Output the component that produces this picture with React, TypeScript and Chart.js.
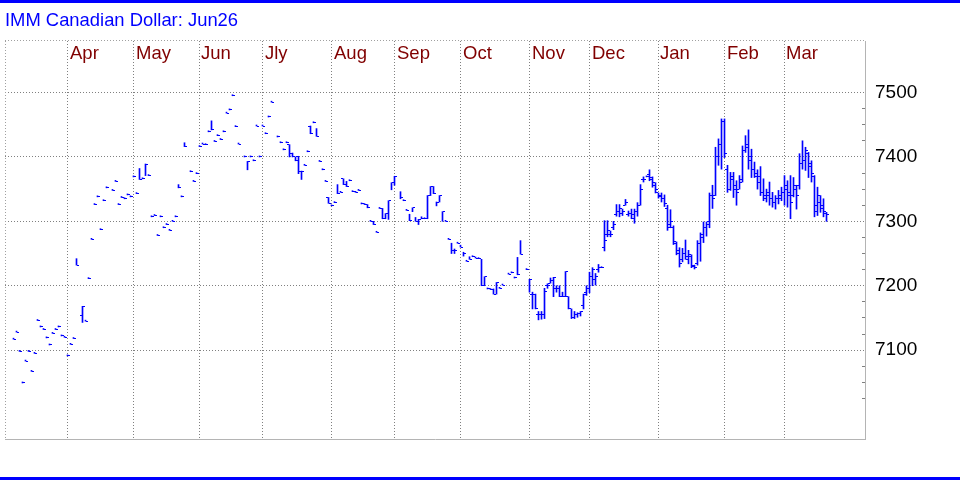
import { useEffect, useRef } from "react";
import { Chart, registerables } from "chart.js";

Chart.register(...registerables);

// Row: single number = close-only print; [open|null, high, low, close]; null = no trade
type Row = number | null | [number | null, number, number, number];

const titleText = "IMM Canadian Dollar: Jun26";
const monthLabels = ["Apr", "May", "Jun", "Jly", "Aug", "Sep", "Oct", "Nov", "Dec", "Jan", "Feb", "Mar"];
// weekday index (0 = first weekday of March 2025) of each month's first weekday
const monthStartDays = [21, 43, 65, 86, 109, 130, 152, 175, 195, 218, 240, 260];
const priceTicks = [7100, 7200, 7300, 7400, 7500];
const minorPriceTicks = [7025, 7050, 7075, 7125, 7150, 7175, 7225, 7250, 7275, 7325, 7350, 7375, 7425, 7450, 7475];

const mar25: Row[] = [null, null, null, 7117, 7128, 7098, 7049, 7083, 7098, 7067, 7095, 7146, 7136, 7132, 7119, 7108, 7126, 7132, 7136, 7122, 7120];
const apr25: Row[] = [7091, 7109, 7118, [null, 7242, 7232, 7232], null, [7153, 7168, 7143, 7168], 7145, 7211, 7272, 7326, 7338, 7287, 7332, 7352, null, 7348, 7362, 7326, 7337, 7335, 7341, 7338];
const may25: Row[] = [7369, 7343, [null, 7382, 7365, 7365], 7366, [null, 7389, 7371, 7389], 7371, 7307, 7309, 7278, 7307, 7290, 7295, 7286, 7300, 7307, [null, 7357, 7352, 7352], 7338, [null, 7422, 7416, 7416], null, 7377, 7362, 7374];
const jun25: Row[] = [7416, 7420, 7419, 7439, [null, 7456, 7442, 7442], 7424, 7433, 7427, 7439, 7468, 7473, 7495, 7447, 7420, null, 7400, [null, 7393, 7380, 7393], 7400, 7394, 7448, 7400];
const jul25: Row[] = [7448, 7436, 7462, 7485, null, 7431, 7422, 7411, 7422, [7419, 7419, 7400, 7406], [null, 7406, 7400, 7400], [null, 7400, 7394, 7394], [7401, 7401, 7374, 7378], [null, 7378, 7365, 7378], 7387, 7408, [7447, 7448, 7436, 7436], 7453, [null, 7444, 7432, 7432], 7393, 7380, 7362, [7337, 7337, 7328, 7328]];
const aug25: Row[] = [7324, 7329, [null, 7357, 7343, 7343], 7345, [7366, 7366, 7357, 7357], [null, 7362, 7354, 7354], 7363, 7346, 7345, 7348, 7327, 7326, [null, 7326, 7321, 7321], 7300, [null, 7300, 7295, 7295], 7283, 7320, [null, 7320, 7304, 7304], [null, 7312, 7304, 7312], [null, 7332, 7303, 7332], [null, 7360, 7349, 7360]];
const sep25: Row[] = [[null, 7370, 7356, 7370], null, [null, 7346, 7335, 7337], 7332, 7317, [null, 7311, 7301, 7301], [null, 7321, 7315, 7321], [null, 7306, 7300, 7300], [null, 7303, 7295, 7303], [null, 7307, 7304, 7304], 7304, [null, 7340, 7304, 7340], [null, 7354, 7340, 7354], [null, 7354, 7343, 7343], [null, 7330, 7324, 7330], [null, 7340, 7330, 7340], [null, 7315, 7300, 7315], 7300, 7272, [null, 7266, 7250, 7254], [7254, 7257, 7250, 7254], 7266];
const oct25: Row[] = [[null, 7263, 7260, 7260], [null, 7252, 7246, 7250], 7238, [null, 7245, 7241, 7241], 7245, 7243, 7242, [null, 7241, 7200, 7200], [null, 7214, 7200, 7214], 7195, 7194, [null, 7195, 7187, 7187], [null, 7205, 7187, 7205], 7196, 7201, null, 7218, 7220, 7212, [null, 7244, 7217, 7217], [null, 7270, 7249, 7249], null, 7225];
const nov25: Row[] = [[null, 7210, 7190, 7210], [7187, 7190, 7164, 7187], [null, 7187, 7164, 7164], [7155, 7160, 7147, 7155], [7155, 7160, 7148, 7155], [null, 7196, 7149, 7191], [7200, 7203, 7196, 7200], [7204, 7212, 7204, 7208], [null, 7213, 7183, 7213], [7195, 7200, 7190, 7195], [7195, 7200, 7183, 7183], [null, 7190, 7183, 7183], [null, 7222, 7183, 7222], [7183, 7183, 7164, 7164], [7164, 7164, 7149, 7150], [7150, 7160, 7149, 7155], [7155, 7158, 7151, 7157], [7157, 7160, 7153, 7160], [7170, 7187, 7164, 7187], [7190, 7200, 7185, 7195]];
const dec25: Row[] = [[7195, 7221, 7189, 7215], [7215, 7228, 7200, 7225], [7210, 7219, 7201, 7215], [7225, 7233, 7221, 7228], 7228, [7260, 7301, 7254, 7270], [7280, 7301, 7276, 7285], [7279, 7285, 7276, 7279], [7290, 7300, 7287, 7295], [7310, 7326, 7308, 7315], [7315, 7326, 7307, 7320], [7312, 7319, 7309, 7315], [7325, 7334, 7325, 7330], [7310, 7316, 7308, 7312], [7312, 7319, 7304, 7310], [7305, 7319, 7297, 7315], [7315, 7329, 7308, 7325], [7325, 7357, 7325, 7350], [7365, 7369, 7361, 7365], 7369, [7372, 7380, 7363, 7368], [7365, 7369, 7353, 7360], [7355, 7360, 7344, 7350]];
const jan26: Row[] = [[7344, 7344, 7336, 7338], [7340, 7344, 7330, 7335], [7335, 7341, 7323, 7328], [7320, 7325, 7286, 7290], [7295, 7318, 7290, 7300], [7290, 7293, 7264, 7268], [7265, 7268, 7248, 7255], [7250, 7259, 7229, 7235], [7240, 7258, 7237, 7250], [7250, 7271, 7241, 7245], [7240, 7255, 7234, 7248], [7245, 7248, 7228, 7232], [7230, 7232, 7226, 7228], [7235, 7270, 7232, 7265], [7265, 7282, 7238, 7275], [7280, 7299, 7267, 7290], [7290, 7299, 7277, 7295], [7300, 7344, 7290, 7340], [7340, 7356, 7320, 7335], [7340, 7415, 7340, 7400], [7400, 7428, 7387, 7420], [7420, 7459, 7381, 7455]];
const feb26: Row[] = [[7455, 7459, 7399, 7405], [7380, 7387, 7345, 7350], [7350, 7376, 7348, 7370], [7365, 7376, 7337, 7355], [7350, 7363, 7325, 7345], [7350, 7371, 7350, 7360], [7365, 7417, 7361, 7410], [7410, 7433, 7407, 7420], [7415, 7442, 7381, 7400], [7395, 7412, 7368, 7380], [7380, 7392, 7368, 7375], [7370, 7380, 7350, 7360], [7370, 7385, 7340, 7345], [7345, 7366, 7332, 7335], [7340, 7350, 7330, 7345], [7340, 7361, 7325, 7335], [7335, 7345, 7322, 7330], [7330, 7340, 7319, 7335], [7335, 7348, 7327, 7340], [7335, 7353, 7332, 7345]];
const mar26: Row[] = [[7345, 7371, 7325, 7355], [7350, 7363, 7322, 7340], [7345, 7371, 7304, 7330], [7340, 7368, 7338, 7355], [7350, 7356, 7319, 7340], [7355, 7405, 7350, 7390], [7390, 7425, 7381, 7395], [7395, 7415, 7379, 7410], [7405, 7407, 7368, 7390], [7385, 7394, 7361, 7375], [7370, 7371, 7307, 7315], [7325, 7353, 7309, 7340], [7330, 7340, 7314, 7325], [7320, 7335, 7307, 7315], [7312, 7314, 7300, 7310]];

const allRows: Row[] = [...mar25, ...apr25, ...may25, ...jun25, ...jul25, ...aug25, ...sep25, ...oct25, ...nov25, ...dec25, ...jan26, ...feb26, ...mar26];

type Bar = { x: number; o: number | null; h: number; l: number; c: number };
const bars: Bar[] = [];
allRows.forEach((r, i) => {
  if (r === null) return;
  if (typeof r === "number") bars.push({ x: i, o: null, h: r, l: r, c: r });
  else bars.push({ x: i, o: r[0], h: r[1], l: r[2], c: r[3] });
});

const FONT = '"Liberation Sans", Arial, Helvetica, sans-serif';
const BAR_COLOR = "#0000ff";

const decorPlugin = {
  id: "decor",
  beforeDraw(chart: any) {
    const { ctx, width, height } = chart;
    ctx.save();
    ctx.fillStyle = "#ffffff";
    ctx.fillRect(0, 0, width, height);
    ctx.restore();
  },
  beforeDatasetsDraw(chart: any) {
    const { ctx, chartArea } = chart;
    const ys = chart.scales.y;
    ctx.save();
    ctx.strokeStyle = "#a0a0a0";
    ctx.lineWidth = 1;
    ctx.setLineDash([1, 2]);
    ctx.beginPath();
    ctx.moveTo(chartArea.left + 0.5, chartArea.top);
    ctx.lineTo(chartArea.left + 0.5, chartArea.bottom);
    ctx.moveTo(chartArea.left, chartArea.top - 0.5);
    ctx.lineTo(chartArea.right, chartArea.top - 0.5);
    ctx.stroke();
    ctx.setLineDash([]);
    ctx.fillStyle = "#808080";
    minorPriceTicks.forEach((v) => {
      const y = Math.floor(ys.getPixelForValue(v));
      ctx.fillRect(chartArea.right - 3, y, 3, 1);
    });
    ctx.restore();
  },
  afterDatasetsDraw(chart: any) {
    const { ctx } = chart;
    const ys = chart.scales.y;
    const meta = chart.getDatasetMeta(0);
    ctx.save();
    ctx.fillStyle = BAR_COLOR;
    meta.data.forEach((el: any, j: number) => {
      const b = bars[j];
      const cx = Math.floor(el.x);
      if (b.o !== null) {
        const yo = Math.floor(ys.getPixelForValue(b.o));
        ctx.fillRect(cx - 2, yo, 2, 1);
      }
      const yc = Math.floor(ys.getPixelForValue(b.c));
      ctx.fillRect(cx + 1, yc, 2, 1);
    });
    ctx.restore();
  },
  afterDraw(chart: any) {
    const { ctx, width, height } = chart;
    const xs = chart.scales.x;
    ctx.save();
    ctx.font = `18.5px ${FONT}`;
    ctx.fillStyle = "#800000";
    ctx.textBaseline = "alphabetic";
    ctx.textAlign = "left";
    monthLabels.forEach((m, k) => {
      const x = xs.getPixelForValue(monthStartDays[k]);
      ctx.fillText(m, Math.round(x) + 2, 59);
    });
    ctx.fillStyle = "#0000ff";
    ctx.fillRect(0, 0, width, 3);
    ctx.fillRect(0, height - 3, width, 3);
    ctx.restore();
  },
};

export default function App() {
  const ref = useRef<HTMLCanvasElement | null>(null);
  useEffect(() => {
    if (!ref.current) return;
    const chart = new Chart(ref.current, {
      type: "bar",
      data: {
        datasets: [
          {
            data: bars.map((b) => ({ x: b.x, y: [b.l, b.h] })) as any,
            backgroundColor: BAR_COLOR,
            borderWidth: 0,
            barThickness: 1,
            minBarLength: 1,
          },
        ],
      },
      options: {
        animation: false,
        responsive: false,
        devicePixelRatio: 1,
        events: [],
        layout: { padding: { left: 5, right: 0, top: 0, bottom: 41 } },
        plugins: {
          legend: { display: false },
          tooltip: { enabled: false },
          title: {
            display: true,
            text: titleText,
            align: "start",
            color: "#0000ff",
            font: { family: FONT, size: 18.4, weight: "normal", lineHeight: 1.2 },
            padding: { top: 10, bottom: 8.92 },
          },
        },
        scales: {
          x: {
            type: "linear",
            min: 1 / 6,
            max: 1 / 6 + 860 / 3,
            offset: false,
            afterBuildTicks: (scale: any) => {
              scale.ticks = monthStartDays.map((v) => ({ value: v }));
            },
            afterFit: (scale: any) => {
              scale.height = 0;
            },
            ticks: { display: false },
            grid: { display: true, color: "#808080", lineWidth: 1, drawTicks: false, offset: false },
            border: { display: true, color: "#b4b4b4", width: 1, dash: [1, 2] },
          },
          y: {
            type: "linear",
            position: "right",
            min: 6962,
            max: 7580,
            afterBuildTicks: (scale: any) => {
              scale.ticks = priceTicks.map((v) => ({ value: v }));
            },
            afterFit: (scale: any) => {
              scale.width = 95;
            },
            ticks: {
              color: "#000000",
              font: { family: FONT, size: 19 },
              padding: 10,
              callback: (v: any) => String(v),
            },
            grid: { display: true, color: "#808080", lineWidth: 1, drawTicks: false },
            border: { display: true, color: "#b4b4b4", width: 1, dash: [1, 2] },
          },
        },
      },
      plugins: [decorPlugin],
    } as any);
    return () => chart.destroy();
  }, []);
  return (
    <div style={{ position: "fixed", left: 0, top: 0, width: 960, height: 480, background: "#fff" }}>
      <canvas ref={ref} width={960} height={480} style={{ display: "block", width: 960, height: 480 }} />
    </div>
  );
}
